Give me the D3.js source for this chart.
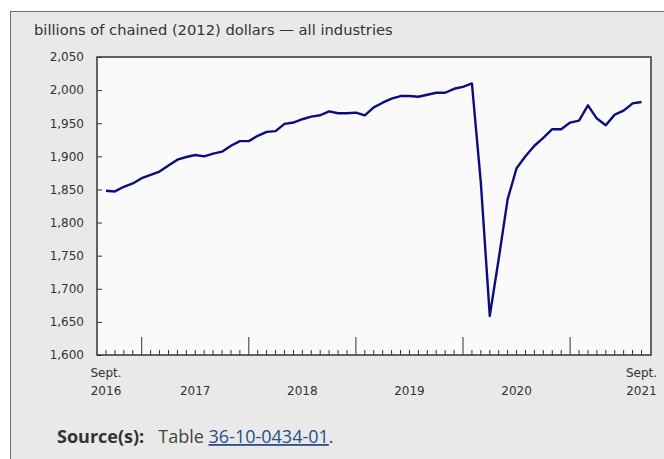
<!DOCTYPE html>
<html>
<head>
<meta charset="utf-8">
<script src="https://cdn.jsdelivr.net/npm/d3@7"></script>
<style>
  body { margin: 0; background: #fff; }
  #chart { position: absolute; left: 0; top: 0; }
</style>
</head>
<body>
<div id="chart"></div>
<script>
const svgWidth = 664;
const svgHeight = 459;

const margin = { top: 57, right: 13, bottom: 104, left: 97 };

const width = svgWidth - margin.left - margin.right;
const height = svgHeight - margin.top - margin.bottom;

// monthly values, Sept. 2016 to Sept. 2021
const startMonth = new Date(2016, 8, 1);
const gdpValues = [
  1848, 1847, 1854, 1859, 1867, 1872, 1877, 1886, 1895, 1899, 1902, 1900,
  1904, 1907, 1916, 1923, 1923, 1931, 1937, 1938, 1949, 1951, 1956, 1960,
  1962, 1968, 1965, 1965, 1966, 1962, 1974, 1981, 1987, 1991, 1991, 1990,
  1993, 1996, 1996, 2002, 2005, 2010, 1860, 1659, 1745, 1835, 1882, 1900,
  1916, 1928, 1941, 1941, 1951, 1954, 1977, 1957, 1947, 1963, 1969, 1980,
  1982
];
const yTicks = [1600, 1650, 1700, 1750, 1800, 1850, 1900, 1950, 2000, 2050];
const yearLabels = ["2017", "2018", "2019", "2020"];

const months = gdpValues.map((v, i) => new Date(startMonth.getFullYear(), startMonth.getMonth() + i, 1));
const data = months.map((m, i) => ({ date: m, value: gdpValues[i] }));

const labelFont = "DejaVu Sans, Verdana, sans-serif";

const svg = d3.select("#chart")
  .append("svg")
  .attr("width", svgWidth)
  .attr("height", svgHeight);

// grey panel behind everything
svg.append("rect")
  .attr("x", 10.5)
  .attr("y", 11.5)
  .attr("width", svgWidth + 20)
  .attr("height", svgHeight + 20)
  .attr("fill", "#e9e9e9")
  .attr("stroke", "#707070")
  .attr("stroke-width", 1);

svg.append("text")
  .attr("x", 34)
  .attr("y", 35)
  .style("font-family", labelFont)
  .style("font-size", "14.7px")
  .attr("fill", "#333")
  .text("billions of chained (2012) dollars \u2014 all industries");

const chartGroup = svg.append("g")
  .attr("transform", `translate(${margin.left}, ${margin.top})`);

chartGroup.append("rect")
  .attr("width", width)
  .attr("height", height)
  .attr("fill", "#fafafa");

// keep data points where they sit in the picture: first month at 9px, last at width-9
const xPos = d3.scaleLinear()
  .domain([0, gdpValues.length - 1])
  .range([9, width - 9.5]);

const yScale = d3.scaleLinear()
  .domain([1600, 2050])
  .range([height, 0]);

// y axis, ticks pointing inward
const leftAxis = d3.axisLeft(yScale)
  .tickValues(yTicks)
  .tickSize(-5)
  .tickPadding(13)
  .tickFormat(d3.format(","));

const yAxis = chartGroup.append("g")
  .classed("y-axis", true)
  .call(leftAxis);
yAxis.select(".domain").remove();
yAxis.selectAll("line").attr("stroke", "#333");
yAxis.selectAll("text")
  .style("font-family", labelFont)
  .style("font-size", "12px")
  .attr("fill", "#333");

// month ticks along the bottom, taller at each January
const xAxis = chartGroup.append("g")
  .classed("x-axis", true)
  .attr("transform", `translate(0, ${height})`);

xAxis.selectAll("line.tick")
  .data(months)
  .enter()
  .append("line")
  .attr("x1", (d, i) => xPos(i))
  .attr("x2", (d, i) => xPos(i))
  .attr("y1", 0)
  .attr("y2", d => d.getMonth() === 0 ? -18 : -5)
  .attr("stroke", "#333")
  .attr("stroke-width", 1);

// end labels
const endLabels = [
  { i: 0, top: "Sept.", bottom: "2016" },
  { i: gdpValues.length - 1, top: "Sept.", bottom: "2021" }
];
endLabels.forEach(l => {
  xAxis.append("text")
    .attr("x", xPos(l.i))
    .attr("y", 22)
    .attr("text-anchor", "middle")
    .style("font-family", labelFont)
    .style("font-size", "12px")
    .attr("fill", "#333")
    .text(l.top);
  xAxis.append("text")
    .attr("x", xPos(l.i))
    .attr("y", 40)
    .attr("text-anchor", "middle")
    .style("font-family", labelFont)
    .style("font-size", "12px")
    .attr("fill", "#333")
    .text(l.bottom);
});

// year labels centred between Januaries
yearLabels.forEach(y => {
  const jan = months.findIndex(m => m.getFullYear() === +y && m.getMonth() === 0);
  xAxis.append("text")
    .attr("x", (xPos(jan) + xPos(jan + 12)) / 2)
    .attr("y", 40)
    .attr("text-anchor", "middle")
    .style("font-family", labelFont)
    .style("font-size", "12px")
    .attr("fill", "#333")
    .text(y);
});

// frame of the plot
chartGroup.append("path")
  .attr("d", `M0,0H${width}V${height}H0Z`)
  .attr("fill", "none")
  .attr("stroke", "#333")
  .attr("stroke-width", 1.5);

const line = d3.line()
  .x((d, i) => xPos(i))
  .y(d => yScale(d.value));

chartGroup.append("path")
  .datum(data)
  .attr("d", line)
  .attr("fill", "none")
  .attr("stroke", "#0c0c80")
  .attr("stroke-width", 2.4)
  .attr("stroke-linejoin", "round");

// source line
const src = svg.append("text")
  .attr("x", 57)
  .attr("y", 443)
  .style("font-family", "Open Sans, sans-serif")
  .style("font-size", "18px")
  .attr("fill", "#333");
src.append("tspan").style("font-weight", "bold").text("Source(s):");
src.append("tspan").attr("dx", 14).attr("fill", "#444").text("Table ");
src.append("tspan")
  .attr("fill", "#284e85")
  .style("text-decoration", "underline")
  .text("36-10-0434-01");
src.append("tspan").attr("fill", "#444").text(".");
</script>
</body>
</html>
